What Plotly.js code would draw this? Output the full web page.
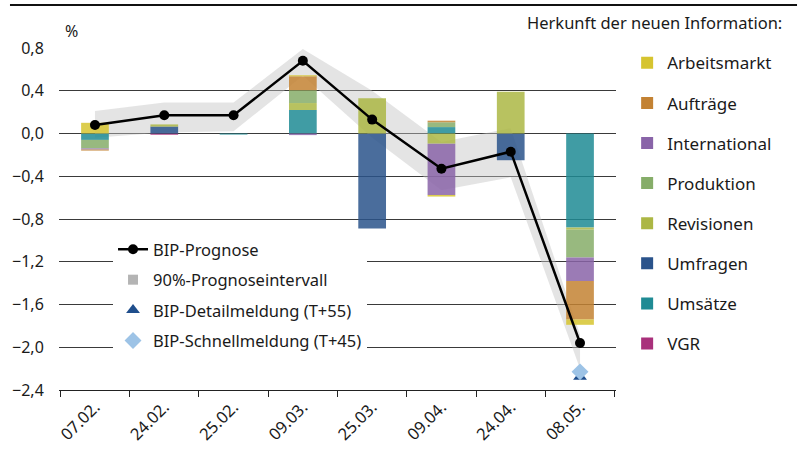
<!DOCTYPE html>
<html>
<head>
<meta charset="utf-8">
<script src="https://cdn.plot.ly/plotly-3.0.1.min.js"></script>
<style>html,body{margin:0;padding:0;background:#fff;}#chart{width:800px;height:450px;}</style>
</head>
<body>
<div id="chart"></div>
<script>
// ---- data ----
const categories = ["07.02.", "24.02.", "25.02.", "09.03.", "25.03.", "09.04.", "24.04.", "08.05."];

const arbeitsmarkt  = [0.10, 0, 0, 0.01, 0, -0.015, 0, -0.05];
const auftraege     = [-0.01, 0, 0, 0.13, 0, 0.015, 0, -0.36];
const international = [-0.01, 0, 0, -0.015, 0, -0.48, 0, -0.22];
const produktion    = [-0.08, 0, 0, 0.12, 0, 0.045, 0, -0.26];
const revisionen    = [0, 0.02, 0, 0.065, 0.33, -0.095, 0.39, -0.02];
const umfragen      = [0, 0.065, 0, 0, -0.89, 0, -0.25, 0];
const umsaetze      = [-0.06, 0, -0.01, 0.22, 0, 0.06, 0, -0.88];
const vgr           = [0, -0.012, 0, 0, 0, 0, 0, 0];

const bipPrognose   = [0.08, 0.17, 0.17, 0.68, 0.13, -0.33, -0.17, -1.96];
const bandLower     = [-0.04, 0.01, 0.02, 0.54, -0.04, -0.53, -0.41, -2.20];
const bandUpper     = [0.21, 0.29, 0.29, 0.79, 0.40, -0.08, 0.05, -1.88];
const detailmeldung = [null, null, null, null, null, null, null, -2.275];
const schnellmeldung= [null, null, null, null, null, null, null, -2.23];

const yTicks = [-2.4, -2.0, -1.6, -1.2, -0.8, -0.4, 0.0, 0.4, 0.8];

// ---- styling ----
const FONT = "Noto Sans, sans-serif";
const TXT = "#1a1a1a";
const barSeries = [
  // stacking order (nearest zero first); rank = legend position
  {name: "VGR",          y: vgr,           color: "#a9307b", rank: 8},
  {name: "Umsätze",      y: umsaetze,      color: "#1f8b94", rank: 7},
  {name: "Umfragen",     y: umfragen,      color: "#2a538b", rank: 6},
  {name: "Revisionen",   y: revisionen,    color: "#acb744", rank: 5},
  {name: "Produktion",   y: produktion,    color: "#86ad69", rank: 4},
  {name: "International",y: international, color: "#8964a8", rank: 3},
  {name: "Aufträge",     y: auftraege,     color: "#c38233", rank: 2},
  {name: "Arbeitsmarkt", y: arbeitsmarkt,  color: "#d6c42f", rank: 1}
];

const traces = [];
// 90% band (base subplot, behind bars)
traces.push({x: categories, y: bandLower, type: "scatter", mode: "lines",
  line: {width: 0, color: "rgba(0,0,0,0)"}, showlegend: false, hoverinfo: "skip",
  xaxis: "x", yaxis: "y"});
traces.push({x: categories, y: bandUpper, type: "scatter", mode: "lines", fill: "tonexty",
  fillcolor: "rgba(195,195,195,0.45)", line: {width: 0, color: "rgba(0,0,0,0)"},
  showlegend: false, hoverinfo: "skip", xaxis: "x", yaxis: "y"});

barSeries.forEach(s => {
  traces.push({x: categories, y: s.y, type: "bar", name: s.name,
    marker: {color: s.color, opacity: 0.85, line: {width: 0}},
    xaxis: "x", yaxis: "y2", legend: "legend", legendgroup: s.name, legendrank: s.rank});
});

traces.push({x: categories, y: bipPrognose, type: "scatter", mode: "lines+markers",
  name: "BIP-Prognose", line: {color: "#000", width: 2.5},
  marker: {color: "#000", size: 10}, xaxis: "x", yaxis: "y2",
  legend: "legend2", legendgroup: "g1", legendrank: 1});
traces.push({x: [null], y: [null], type: "scatter", mode: "markers",
  name: "90%-Prognoseintervall", marker: {color: "#b4b4b4", symbol: "square", size: 10},
  xaxis: "x", yaxis: "y2", legend: "legend2", legendgroup: "g2", legendrank: 2});
traces.push({x: categories, y: detailmeldung, type: "scatter", mode: "markers",
  name: "BIP-Detailmeldung (T+55)", marker: {color: "#1f4e8c", symbol: "triangle-up", size: 12},
  xaxis: "x", yaxis: "y2", legend: "legend2", legendgroup: "g3", legendrank: 3});
traces.push({x: categories, y: schnellmeldung, type: "scatter", mode: "markers",
  name: "BIP-Schnellmeldung (T+45)", marker: {color: "#9dc3e6", symbol: "diamond", size: 13},
  xaxis: "x", yaxis: "y2", legend: "legend2", legendgroup: "g4", legendrank: 4});

const yRange = [-2.4, 0.8];
const layout = {
  width: 800, height: 450,
  margin: {l: 59, r: 184, t: 48, b: 60, pad: 0},
  paper_bgcolor: "#fff", plot_bgcolor: "#fff",
  separators: ",.",
  font: {family: FONT, size: 16, color: TXT},
  barmode: "relative", bargap: 0.6,
  xaxis: {type: "category", tickangle: -45, tickfont: {size: 16.5, color: TXT},
    showgrid: false, showline: true, linecolor: "#222", linewidth: 1,
    ticks: "outside", ticklen: 6, tickcolor: "#222", tickson: "boundaries",
    zeroline: false, fixedrange: true},
  yaxis: {range: yRange, tickvals: yTicks, tickformat: ".1f",
    tickfont: {size: 16, color: TXT}, showgrid: true, gridcolor: "#3a3a3a", gridwidth: 1,
    zeroline: true, zerolinecolor: "#3a3a3a", zerolinewidth: 1, showline: false,
    ticks: "outside", ticklen: 11, tickcolor: "rgba(0,0,0,0)", fixedrange: true},
  yaxis2: {range: yRange, overlaying: "y", showgrid: false, zeroline: false,
    showticklabels: false, showline: false, ticks: "", fixedrange: true},
  legend: {x: 1.02, xanchor: "left", y: 1.008, yanchor: "top", maxheight: 420,
    traceorder: "grouped", tracegroupgap: 15,
    font: {size: 17, color: TXT}, bgcolor: "rgba(0,0,0,0)", itemclick: false},
  legend2: {x: 0.097, xanchor: "left", y: 0.462, yanchor: "top", maxheight: 300,
    traceorder: "grouped", tracegroupgap: 6,
    font: {size: 16.5, color: TXT}, bgcolor: "#fff", borderwidth: 0, itemclick: false},
  annotations: [
    {text: "%", xref: "paper", yref: "paper", x: 0.023, y: 1.05,
      xanchor: "center", yanchor: "middle", showarrow: false, font: {size: 16, color: TXT}},
    {text: "Herkunft der neuen Information:", xref: "paper", yref: "paper",
      x: 0.8366, y: 1.076, xanchor: "left", yanchor: "middle", showarrow: false,
      font: {size: 16.5, color: TXT}}
  ],
  shapes: [
    {type: "line", xref: "paper", yref: "paper", x0: -0.088, x1: 1.325,
      y0: 1.1257, y1: 1.1257, line: {color: "#111", width: 2}}
  ]
};

Plotly.newPlot("chart", traces, layout, {displayModeBar: false, staticPlot: true});
</script>
</body>
</html>
